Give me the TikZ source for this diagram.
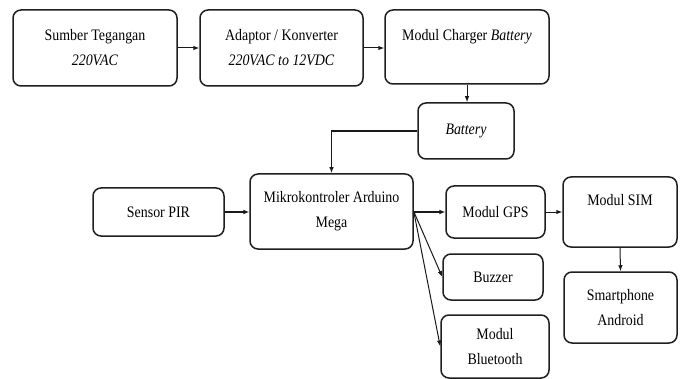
\documentclass[tikz,border=0pt]{standalone}
\usepackage{fontspec}
\setmainfont{Liberation Serif}[FakeStretch=0.87]
\usetikzlibrary{arrows.meta,calc}
\begin{document}
\begin{tikzpicture}[x=1pt,y=-1pt,
  box/.style={draw=black!88,line width=1.5pt,rounded corners=8pt,inner sep=0pt,align=center,
    font=\fontsize{16}{25}\selectfont},
  arr/.style={draw=black!90,line width=1pt,-{Latex[length=6pt,width=4.5pt]}},
  thickarr/.style={draw=black!90,line width=1.8pt,-{Latex[length=6pt,width=5pt]}},
  plain/.style={draw=black!90,line width=1.5pt}]
\useasboundingbox (0,0) rectangle (684,379);
\node[box,minimum width=164pt,minimum height=76pt] (b1) at (95,48) {Sumber Tegangan\\\textit{220VAC}};
\node[box,minimum width=163pt,minimum height=76pt] (b2) at (281.5,48) {Adaptor / Konverter\\\textit{220VAC to 12VDC}};
\node[box,minimum width=164pt,minimum height=74pt] (b3) at (467,47) {Modul Charger \textit{Battery}\\\mbox{}};
\node[box,minimum width=96pt,minimum height=56pt] (bat) at (466,131) {\textit{Battery}};
\node[box,minimum width=131pt,minimum height=48pt] (pir) at (158.5,212) {Sensor PIR};
\node[box,minimum width=163pt,minimum height=75pt] (mik) at (331.5,211.5) {Mikrokontroler Arduino\\Mega};
\node[box,minimum width=99pt,minimum height=52pt] (gps) at (495.5,212) {Modul GPS};
\node[box,minimum width=100pt,minimum height=46pt] (buz) at (493,277) {Buzzer};
\node[box,minimum width=108pt,minimum height=63pt] (bt) at (495,346.5) {Modul\\Bluetooth};
\node[box,minimum width=114pt,minimum height=70pt] (sim) at (620,212) {Modul SIM\\\mbox{}};
\node[box,minimum width=113pt,minimum height=71pt] (sp) at (620.5,307.5) {Smartphone\\Android};
\draw[arr] (b1.east) -- (b2.west);
\draw[arr] (b2.east) -- (b3.west |- b2.east);
\draw[arr] (b3.south) -- (b3.south |- bat.north);
\draw[plain,-{Latex[length=6pt,width=4.5pt]}] (bat.west) -| (mik.north);
\draw[thickarr] (pir.east) -- (mik.west |- pir.east);
\draw[thickarr] (mik.east |- gps.west) -- (gps.west);
\draw[arr] (gps.east) -- (sim.west |- gps.east);
\draw[arr] (mik.east) -- (buz.west);
\draw[arr] (mik.east) -- (bt.west);
\draw[arr] (sim.south) -- (sp.north);
\end{tikzpicture}
\end{document}
